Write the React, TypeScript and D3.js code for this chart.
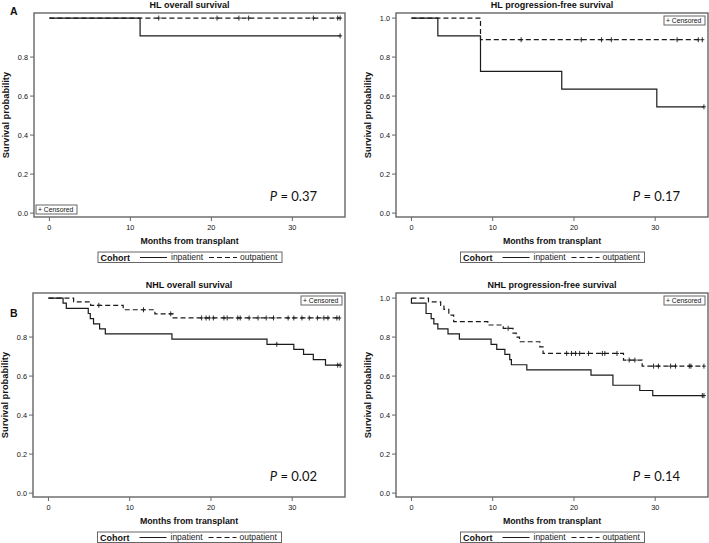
import React from 'react';
import * as d3 from 'd3';

// ---------- Data ----------
// HL overall survival
const hlOsInTimes = [0, 11.2];
const hlOsInSurv = [1, 0.909];
const hlOsInCens = [35.9];
const hlOsOutTimes = [0];
const hlOsOutSurv = [1];
const hlOsOutCens = [13.5, 20.7, 23.4, 24.6, 32.6, 35.6, 35.9];

// HL progression-free survival
const hlPfsInTimes = [0, 3.25, 8.5, 18.5, 30.2];
const hlPfsInSurv = [1, 0.909, 0.727, 0.636, 0.545];
const hlPfsInCens = [36];
const hlPfsOutTimes = [0, 8.5];
const hlPfsOutSurv = [1, 0.889];
const hlPfsOutCens = [13.5, 20.9, 23.4, 24.6, 32.7, 35.3, 35.8];

// NHL overall survival
const nhlOsInTimes = [0, 1.8, 2.2, 4.9, 5.15, 5.55, 6.3, 7.0, 15.2, 26.9, 30.2, 31.4, 32.6, 34.1];
const nhlOsInSurv = [1, 0.974, 0.947, 0.921, 0.895, 0.868, 0.842, 0.816, 0.789, 0.763, 0.737, 0.711, 0.684, 0.656];
const nhlOsInCens = [28.1, 35.6, 35.9];
const nhlOsOutTimes = [0, 3.1, 5.2, 9.2, 13.1, 15.35];
const nhlOsOutSurv = [1, 0.981, 0.963, 0.94, 0.919, 0.898];
const nhlOsOutCens = [6.2, 11.7, 15.05, 18.85, 19.4, 19.8, 20.3, 21.6, 22.0, 23.3, 23.6, 24.7, 25.8, 26.8, 27.7, 29.5, 30.2, 31.2, 32.1, 33.1, 33.9, 34.4, 35.5, 35.8];

// NHL progression-free survival
const nhlPfsInTimes = [0, 0, 1.8, 2.43, 2.76, 3.25, 4.5, 5.9, 9.8, 10.5, 11.5, 12.1, 12.3, 14.2, 22.1, 24.8, 28.1, 29.7];
const nhlPfsInSurv = [1, 0.974, 0.921, 0.895, 0.868, 0.842, 0.816, 0.789, 0.763, 0.737, 0.711, 0.684, 0.658, 0.632, 0.605, 0.553, 0.526, 0.5];
const nhlPfsInCens = [35.8, 36];
const nhlPfsOutTimes = [0, 2.1, 3.6, 4.0, 4.6, 5.2, 9.4, 11.3, 12.5, 12.9, 13.3, 15.8, 16.2, 26.1, 28.4];
const nhlPfsOutSurv = [1, 0.981, 0.962, 0.942, 0.913, 0.879, 0.862, 0.845, 0.82, 0.8, 0.776, 0.75, 0.716, 0.682, 0.651];
const nhlPfsOutCens = [11.9, 19.1, 19.7, 20.2, 20.7, 21.8, 23.5, 23.8, 25.3, 26.8, 27.5, 29.8, 30.4, 31.9, 32.5, 34.2, 34.4, 36];

const xTicks = [0, 10, 20, 30];
const yTicksNoTop = [0, 0.2, 0.4, 0.6, 0.8];
const yTicksWithTop = [0, 0.2, 0.4, 0.6, 0.8, 1.0];
const panelTitles = ['HL overall survival', 'HL progression-free survival', 'NHL overall survival', 'NHL progression-free survival'];
const pValues = ['0.37', '0.17', '0.02', '0.14'];
const cohortLabels = ['inpatient', 'outpatient'];
const panelLetters = ['A', '', 'B', ''];

// ---------- Layout ----------
type Frame = { l: number; t: number; r: number; b: number };
const frames: Frame[] = [
  { l: 34, t: 13, r: 345, b: 217 },
  { l: 396, t: 13, r: 708, b: 217 },
  { l: 33, t: 293, r: 345, b: 497 },
  { l: 396, t: 293, r: 708, b: 497 },
];
const censorBoxPos = ['bl', 'tr', 'tr', 'tr'];
const letterPos = [
  [10, 15],
  [0, 0],
  [10, 317],
  [0, 0],
];

type Curve = { times: number[]; surv: number[]; cens: number[]; dashed: boolean };

const panelCurves: Curve[][] = [
  [
    { times: hlOsInTimes, surv: hlOsInSurv, cens: hlOsInCens, dashed: false },
    { times: hlOsOutTimes, surv: hlOsOutSurv, cens: hlOsOutCens, dashed: true },
  ],
  [
    { times: hlPfsInTimes, surv: hlPfsInSurv, cens: hlPfsInCens, dashed: false },
    { times: hlPfsOutTimes, surv: hlPfsOutSurv, cens: hlPfsOutCens, dashed: true },
  ],
  [
    { times: nhlOsInTimes, surv: nhlOsInSurv, cens: nhlOsInCens, dashed: false },
    { times: nhlOsOutTimes, surv: nhlOsOutSurv, cens: nhlOsOutCens, dashed: true },
  ],
  [
    { times: nhlPfsInTimes, surv: nhlPfsInSurv, cens: nhlPfsInCens, dashed: false },
    { times: nhlPfsOutTimes, surv: nhlPfsOutSurv, cens: nhlPfsOutCens, dashed: true },
  ],
];

const FONT = 'Arial, "Liberation Sans", Helvetica, sans-serif';
const LINE = '#1a1a1a';
const FRAME = '#666';

function survAt(c: Curve, t: number) {
  let s = c.surv[0];
  for (let i = 0; i < c.times.length; i++) if (c.times[i] <= t) s = c.surv[i];
  return s;
}

function Panel({ idx }: { idx: number }) {
  const f = frames[idx];
  const x = d3.scaleLinear().domain([-1.9, 36.5]).range([f.l, f.r]);
  const y = d3.scaleLinear().domain([-0.02, 1.026]).range([f.b, f.t]);
  const yTicks = idx === 1 || idx === 3 ? yTicksWithTop : yTicksNoTop;
  const line = d3
    .line<[number, number]>()
    .x((d) => x(d[0]))
    .y((d) => y(d[1]))
    .curve(d3.curveStepAfter);
  const cx = (f.l + f.r) / 2;
  const cy = (f.t + f.b) / 2;
  const lgX = cx - 91.5;
  const lgY = f.b + 35;
  const cb = censorBoxPos[idx] === 'bl' ? { x: f.l + 2, y: f.b - 12 } : { x: f.r - 44, y: f.t + 3 };
  return (
    <g>
      <text x={cx} y={f.t - 5} textAnchor="middle" fontFamily={FONT} fontWeight="bold" fontSize={9} fill="#111">
        {panelTitles[idx]}
      </text>
      {panelLetters[idx] && (
        <text x={letterPos[idx][0]} y={letterPos[idx][1]} fontFamily={FONT} fontWeight="bold" fontSize={10.5} fill="#111">
          {panelLetters[idx]}
        </text>
      )}
      {/* curves */}
      {panelCurves[idx].map((c, ci) => {
        const end = Math.max(...c.cens, ...c.times);
        const pts: [number, number][] = c.times.map((t, i) => [t, c.surv[i]] as [number, number]);
        pts.push([end, c.surv[c.surv.length - 1]]);
        return (
          <g key={ci}>
            <path
              d={line(pts) || ''}
              fill="none"
              stroke={LINE}
              strokeWidth={1.2}
              strokeDasharray={c.dashed ? '5,3' : undefined}
            />
            {c.cens.map((t, k) => {
              const px = x(t);
              const py = y(survAt(c, t));
              return (
                <g key={k} stroke={LINE} strokeWidth={0.9}>
                  <line x1={px} x2={px} y1={py - 2.5} y2={py + 2.5} />
                  <line x1={px - 2} x2={px + 2} y1={py} y2={py} />
                </g>
              );
            })}
          </g>
        );
      })}
      {/* frame */}
      <rect x={f.l} y={f.t} width={f.r - f.l} height={f.b - f.t} fill="none" stroke={FRAME} strokeWidth={1.4} />
      {/* y axis */}
      {yTicks.map((v) => (
        <g key={v}>
          <line x1={f.l - 4} x2={f.l} y1={y(v)} y2={y(v)} stroke={FRAME} strokeWidth={1} />
          <text x={f.l - 6} y={y(v)} dy="0.35em" textAnchor="end" fontFamily={FONT} fontSize={7.3} fill="#111">
            {v.toFixed(1)}
          </text>
        </g>
      ))}
      <text
        transform={`translate(${f.l - 25},${cy}) rotate(-90)`}
        textAnchor="middle"
        fontFamily={FONT}
        fontWeight="bold"
        fontSize={9.3}
        fill="#111"
      >
        Survival probability
      </text>
      {/* x axis */}
      {xTicks.map((v) => (
        <g key={v}>
          <line x1={x(v)} x2={x(v)} y1={f.b} y2={f.b + 4} stroke={FRAME} strokeWidth={1} />
          <text x={x(v)} y={f.b + 13} textAnchor="middle" fontFamily={FONT} fontSize={7.3} fill="#111">
            {v}
          </text>
        </g>
      ))}
      <text x={cx} y={f.b + 27} textAnchor="middle" fontFamily={FONT} fontWeight="bold" fontSize={8.8} fill="#111">
        Months from transplant
      </text>
      {/* legend */}
      <rect x={lgX} y={lgY} width={184} height={10.5} fill="none" stroke={FRAME} strokeWidth={1} />
      <text x={lgX + 2.5} y={lgY + 8.5} fontFamily={FONT} fontWeight="bold" fontSize={9} fill="#111">
        Cohort
      </text>
      <line x1={lgX + 42} x2={lgX + 69} y1={lgY + 5.5} y2={lgY + 5.5} stroke={LINE} strokeWidth={1} />
      <text x={lgX + 73} y={lgY + 8.3} fontFamily={FONT} fontSize={8.5} fill="#222">
        {cohortLabels[0]}
      </text>
      <line x1={lgX + 111} x2={lgX + 139} y1={lgY + 5.5} y2={lgY + 5.5} stroke={LINE} strokeWidth={1} strokeDasharray="5,3" />
      <text x={lgX + 142} y={lgY + 8.3} fontFamily={FONT} fontSize={8.5} fill="#222">
        {cohortLabels[1]}
      </text>
      {/* censored box */}
      <rect x={cb.x} y={cb.y} width={41} height={9} fill="#fff" stroke={FRAME} strokeWidth={1} />
      <text x={cb.x + 2} y={cb.y + 7} fontFamily={FONT} fontSize={6.8} fill="#111">
        + Censored
      </text>
      {/* p value */}
      <text x={f.r - 28} y={f.b - 16} textAnchor="end" fontFamily="Lato, 'Open Sans', sans-serif" fontSize={13} fill="#111">
        <tspan fontStyle="italic">P</tspan> = {pValues[idx]}
      </text>
    </g>
  );
}

export default function App() {
  return (
    <svg
      width={709}
      height={543}
      style={{ position: 'absolute', left: 0, top: 0, background: '#fff' }}
      xmlns="http://www.w3.org/2000/svg"
    >
      <rect width={709} height={543} fill="#fff" />
      {[0, 1, 2, 3].map((i) => (
        <Panel key={i} idx={i} />
      ))}
    </svg>
  );
}
